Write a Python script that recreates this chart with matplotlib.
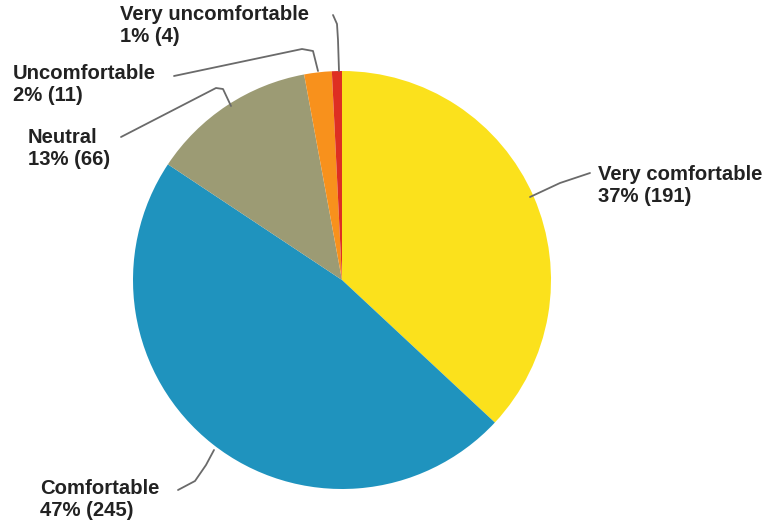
import matplotlib
matplotlib.use("Agg")
import matplotlib.pyplot as plt

labels = ["Very comfortable", "Comfortable", "Neutral", "Uncomfortable", "Very uncomfortable"]
counts = [191, 245, 66, 11, 4]
pcts = ["37%", "47%", "13%", "2%", "1%"]
colors = ["#FBE11C", "#1F93BE", "#9C9B74", "#F8911C", "#DE2F22"]

W, H = 771, 531
fig = plt.figure(figsize=(W / 100, H / 100), dpi=100)
ax = fig.add_axes([0, 0, 1, 1])

def py(y):
    # pixel row -> data y
    return H - y

cx, cy, r = 342, 280, 209
ax.pie(counts, colors=colors, startangle=90, counterclock=False,
       center=(cx, py(cy)), radius=r, frame=True,
       wedgeprops=dict(linewidth=0))
ax.set_xlim(0, W)
ax.set_ylim(0, H)
ax.set_aspect("equal")
ax.axis("off")

# label anchor (top-left pixel) for each slice
label_pos = {
    "Very comfortable": (598, 165),
    "Comfortable": (40, 479),
    "Neutral": (28, 128),
    "Uncomfortable": (13, 64),
    "Very uncomfortable": (120, 5),
}
leaders = {
    "Very comfortable": [(590, 173), (560, 183), (530, 197)],
    "Comfortable": [(178, 490), (195, 481), (206, 465), (214, 450)],
    "Neutral": [(121, 137), (216, 88), (223, 89), (231, 106)],
    "Uncomfortable": [(174, 76), (302, 49), (313, 51), (318, 71)],
    "Very uncomfortable": [(333, 15), (337, 24), (338, 40), (339, 71)],
}

font = dict(family=["Liberation Sans", "DejaVu Sans"],
            fontweight="bold", fontsize=14.6, color="#222222")

for lab, n, p in zip(labels, counts, pcts):
    x, y = label_pos[lab]
    ax.text(x, py(y), f"{lab}\n{p} ({n})", ha="left", va="top",
            linespacing=1.18, **font)
    pts = leaders[lab]
    ax.plot([q[0] for q in pts], [py(q[1]) for q in pts],
            color="#6a6a6a", lw=1.3, solid_capstyle="round")

fig.savefig("out.png", dpi=100, facecolor="white")
